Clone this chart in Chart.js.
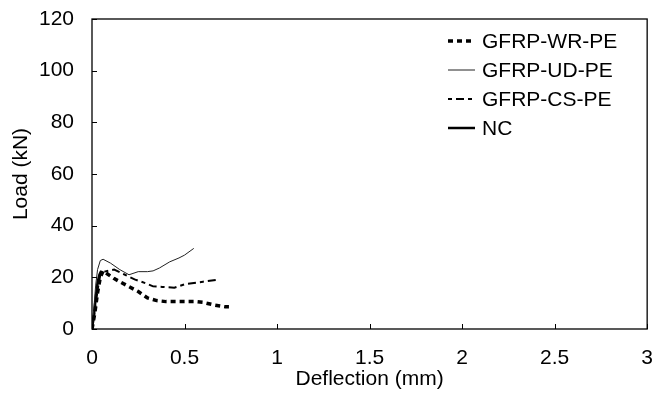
<!DOCTYPE html>
<html>
<head>
<meta charset="utf-8">
<script src="https://cdn.jsdelivr.net/npm/chart.js@4.4.0/dist/chart.umd.min.js"></script>
<style>
html,body{margin:0;padding:0;background:#fff;}
canvas{display:block;}
</style>
</head>
<body>
<canvas id="c" width="670" height="396"></canvas>
<script>
// ---- data ----
const seriesLabels = ["GFRP-WR-PE", "GFRP-UD-PE", "GFRP-CS-PE", "NC"];

const wrX = [0, 0.015, 0.03, 0.045, 0.06, 0.08, 0.12, 0.15, 0.2, 0.25, 0.3, 0.35, 0.4, 0.5, 0.56, 0.6, 0.66, 0.72, 0.74];
const wrY = [0, 6, 14, 20, 22.5, 21.5, 19.5, 18.3, 16.4, 14.5, 12, 11, 10.6, 10.6, 10.6, 10.3, 9.3, 8.6, 8.6];

const udX = [0, 0.01, 0.02, 0.03, 0.045, 0.06, 0.1, 0.15, 0.2, 0.25, 0.3, 0.33, 0.364, 0.42, 0.47, 0.5, 0.55];
const udY = [0, 8, 17, 23, 26.5, 27, 25.5, 23, 21, 22.2, 22.2, 22.5, 23.6, 26, 27.5, 28.6, 31.2];

const csX = [0, 0.015, 0.03, 0.045, 0.066, 0.12, 0.17, 0.23, 0.29, 0.33, 0.38, 0.445, 0.5, 0.6, 0.67];
const csY = [0, 7, 15, 21, 22.2, 23, 21.3, 19.2, 17.7, 16.5, 16.3, 16, 17.3, 18.3, 19];

const ncX = [0, 0.01, 0.02, 0.03, 0.04, 0.05];
const ncY = [0, 5, 12, 18, 21, 22.5];

const xTicks = [0, 0.5, 1, 1.5, 2, 2.5, 3];
const yTicks = [0, 20, 40, 60, 80, 100, 120];

const xTitle = "Deflection (mm)";
const yTitle = "Load (kN)";

// ---- build ----
const pts = (xs, ys) => xs.map((x, i) => ({x: x, y: ys[i]}));
const FONT = "'Liberation Sans', Arial, sans-serif";
const FS = 21;

const datasets = [
  {label: seriesLabels[0], data: pts(wrX, wrY), borderColor: '#000', borderWidth: 3.5, borderDash: [5, 4]},
  {label: seriesLabels[1], data: pts(udX, udY), borderColor: '#222', borderWidth: 1, borderDash: []},
  {label: seriesLabels[2], data: pts(csX, csY), borderColor: '#000', borderWidth: 2, borderDash: [4, 4, 8, 4]},
  {label: seriesLabels[3], data: pts(ncX, ncY), borderColor: '#000', borderWidth: 2.5, borderDash: []}
].map(d => Object.assign(d, {showLine: true, pointRadius: 0, fill: false, tension: 0}));

const frame = {
  id: 'frame',
  afterDatasetsDraw(chart) {
    const {ctx, chartArea: a, scales: {x, y}} = chart;
    ctx.save();
    ctx.strokeStyle = '#000';
    ctx.lineWidth = 1.3;
    ctx.setLineDash([]);
    ctx.strokeRect(a.left, a.top, a.right - a.left, a.bottom - a.top);
    ctx.lineWidth = 1;
    ctx.beginPath();
    xTicks.forEach(v => { const px = Math.round(x.getPixelForValue(v)) + 0.5; ctx.moveTo(px, a.bottom); ctx.lineTo(px, a.bottom - 5); });
    yTicks.forEach(v => { const py = Math.round(y.getPixelForValue(v)) + 0.5; ctx.moveTo(a.left, py); ctx.lineTo(a.left + 5, py); });
    ctx.stroke();
    // legend
    const lx = 448, lw = 27, tx = 482, ys = [41, 70, 99, 128];
    datasets.forEach((d, i) => {
      ctx.beginPath();
      ctx.lineWidth = d.borderWidth;
      ctx.strokeStyle = d.borderColor;
      ctx.setLineDash(d.borderDash);
      ctx.moveTo(lx, ys[i]); ctx.lineTo(lx + lw, ys[i]);
      ctx.stroke();
      ctx.setLineDash([]);
      ctx.fillStyle = '#000';
      ctx.font = FS + 'px ' + FONT;
      ctx.textBaseline = 'middle';
      ctx.textAlign = 'left';
      ctx.fillText(d.label, tx, ys[i] + 1);
    });
    ctx.restore();
  }
};

new Chart(document.getElementById('c'), {
  type: 'scatter',
  data: {datasets: datasets},
  plugins: [frame],
  options: {
    responsive: false,
    animation: false,
    devicePixelRatio: 1,
    layout: {padding: {top: 19, right: 6, left: 0, bottom: 0}},
    plugins: {legend: {display: false}, tooltip: {enabled: false}},
    scales: {
      x: {
        type: 'linear', min: 0, max: 3,
        afterBuildTicks: s => { s.ticks = xTicks.map(v => ({value: v})); },
        afterFit: s => { s.height = 67; },
        grid: {display: false, drawTicks: false},
        border: {display: false},
        ticks: {color: '#000', font: {family: FONT, size: FS}, padding: 17, maxRotation: 0, autoSkip: false,
                callback: v => String(v)},
        title: {display: true, text: xTitle, color: '#000', font: {family: FONT, size: FS}, padding: {top: 0, bottom: 4}}
      },
      y: {
        type: 'linear', min: 0, max: 120,
        afterBuildTicks: s => { s.ticks = yTicks.map(v => ({value: v})); },
        afterFit: s => { s.width = 92; s.paddingTop = 0; s.paddingBottom = 0; },
        grid: {display: false, drawTicks: false},
        border: {display: false},
        ticks: {color: '#000', font: {family: FONT, size: FS}, padding: 18, autoSkip: false,
                callback: v => String(v)},
        title: {display: true, text: yTitle, color: '#000', font: {family: FONT, size: FS}, padding: {top: 9, bottom: 0}}
      }
    }
  }
});
</script>
</body>
</html>
